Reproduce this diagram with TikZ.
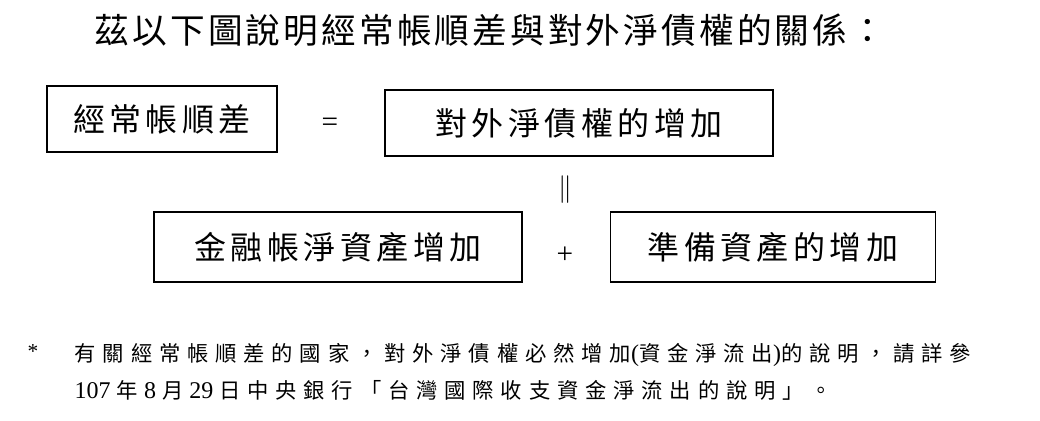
\documentclass[tikz,border=0pt]{standalone}
\usepackage{fontspec}
\setmainfont{Liberation Serif}
\newfontfamily\cjkt[LetterSpace=9]{Noto Sans CJK TC}
\newfontfamily\cjkb[LetterSpace=14]{Noto Sans CJK TC}
\newfontfamily\cjkf[LetterSpace=32]{Noto Sans CJK TC}
\newcommand{\rmx}[1]{{\rmfamily\fontsize{18}{20}\selectfont #1}}
\begin{document}
\begin{tikzpicture}[x=0.75pt,y=-0.75pt,
  bx/.style={draw,line width=1.2pt,font=\cjkb\fontsize{24}{30}\selectfont,inner sep=0pt},
  sym/.style={font=\fontsize{22}{26}\selectfont}]
\useasboundingbox (0,0) rectangle (1040,421);
\node[font=\cjkt\fontsize{26}{30}\selectfont] (title) at (490,30) {茲以下圖說明經常帳順差與對外淨債權的關係：};
\node[bx,minimum width=230*0.75pt,minimum height=66*0.75pt] (a) at (162,119) {經常帳順差};
\node[sym] (eq) at (330,125) {=};
\node[bx,minimum width=388*0.75pt,minimum height=66*0.75pt] (b) at (579,123) {對外淨債權的增加};
\node[sym] (par) at (565,190) {$\|$};
\node[bx,minimum width=368*0.75pt,minimum height=70*0.75pt] (c) at (338,247) {金融帳淨資產增加};
\node[sym] (plus) at (565,255) {+};
\node[bx,minimum width=325*0.75pt,minimum height=70*0.75pt] (d) at (773,247) {準備資產的增加};
\node[font=\fontsize{16}{20}\selectfont] (star) at (33,352) {*};
\node[anchor=west,font=\cjkf\fontsize{16}{20}\selectfont] (f1) at (70,355) {有關經常帳順差的國家，對外淨債權必然增加\rmx{(}資金淨流出\rmx{)}的說明，請詳參};
\node[anchor=west,font=\cjkf\fontsize{16}{20}\selectfont] (f2) at (70,390) {\rmx{107 }年\rmx{ 8 }月\rmx{ 29 }日中央銀行「台灣國際收支資金淨流出的說明」。};
\end{tikzpicture}
\end{document}
